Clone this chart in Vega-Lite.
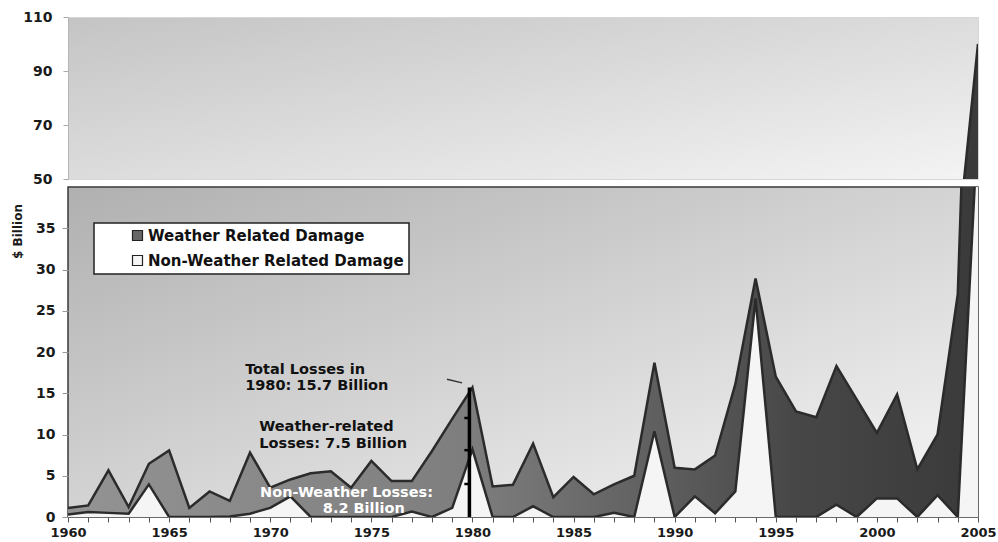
{
  "$schema": "https://vega.github.io/schema/vega-lite/v6.json",
  "background": "white",
  "padding": {"left": 10, "top": 9, "right": 2, "bottom": 2},
  "config": {
    "font": "DejaVu Sans",
    "axis": {"labelFont": "DejaVu Sans", "labelFontWeight": "bold", "labelColor": "#1a1a1a", "grid": false, "domain": false},
    "legend": {"strokeWidth": 1.5}
  },
  "datasets": {
    "losses": [
      {"year": 1960, "total": 1.1, "nonweather": 0.3},
      {"year": 1961, "total": 1.4, "nonweather": 0.6},
      {"year": 1962, "total": 5.65, "nonweather": 0.5},
      {"year": 1963, "total": 1.2, "nonweather": 0.4},
      {"year": 1964, "total": 6.45, "nonweather": 3.95},
      {"year": 1965, "total": 8.07, "nonweather": 0},
      {"year": 1966, "total": 1.1, "nonweather": 0},
      {"year": 1967, "total": 3.1, "nonweather": 0},
      {"year": 1968, "total": 1.95, "nonweather": 0.05},
      {"year": 1969, "total": 7.8, "nonweather": 0.4},
      {"year": 1970, "total": 3.55, "nonweather": 1.1},
      {"year": 1971, "total": 4.55, "nonweather": 2.5},
      {"year": 1972, "total": 5.3, "nonweather": 0},
      {"year": 1973, "total": 5.55, "nonweather": 0},
      {"year": 1974, "total": 3.55, "nonweather": 0},
      {"year": 1975, "total": 6.8, "nonweather": 0},
      {"year": 1976, "total": 4.35, "nonweather": 0},
      {"year": 1977, "total": 4.35, "nonweather": 0.65},
      {"year": 1978, "total": 8.0, "nonweather": 0},
      {"year": 1979, "total": 11.9, "nonweather": 1.1},
      {"year": 1980, "total": 15.7, "nonweather": 8.2},
      {"year": 1981, "total": 3.7, "nonweather": 0},
      {"year": 1982, "total": 3.9, "nonweather": 0},
      {"year": 1983, "total": 8.9, "nonweather": 1.3},
      {"year": 1984, "total": 2.4, "nonweather": 0},
      {"year": 1985, "total": 4.85, "nonweather": 0},
      {"year": 1986, "total": 2.75, "nonweather": 0},
      {"year": 1987, "total": 3.95, "nonweather": 0.5},
      {"year": 1988, "total": 5.0, "nonweather": 0},
      {"year": 1989, "total": 18.7, "nonweather": 10.4},
      {"year": 1990, "total": 5.97, "nonweather": 0},
      {"year": 1991, "total": 5.77, "nonweather": 2.5},
      {"year": 1992, "total": 7.45, "nonweather": 0.45},
      {"year": 1993, "total": 16.1, "nonweather": 3.1},
      {"year": 1994, "total": 28.9, "nonweather": 26.5},
      {"year": 1995, "total": 17.0, "nonweather": 0},
      {"year": 1996, "total": 12.8, "nonweather": 0},
      {"year": 1997, "total": 12.1, "nonweather": 0},
      {"year": 1998, "total": 18.3, "nonweather": 1.5},
      {"year": 1999, "total": 14.25, "nonweather": 0},
      {"year": 2000, "total": 10.2, "nonweather": 2.25},
      {"year": 2001, "total": 14.85, "nonweather": 2.25},
      {"year": 2002, "total": 5.77, "nonweather": 0},
      {"year": 2003, "total": 10.0, "nonweather": 2.65},
      {"year": 2004, "total": 27.0, "nonweather": 0},
      {"year": 2005, "total": 100.0, "nonweather": 48.0}
    ]
  },
  "spacing": -1,
  "resolve": {"legend": {"fill": "independent"}},
  "vconcat": [
    {
      "width": 910,
      "height": 162,
      "view": {
        "stroke": "#d6d6d6",
        "fill": {"gradient": "linear", "x1": 0, "y1": 0, "x2": 1, "y2": 1, "stops": [{"offset": 0, "color": "#c4c4c4"}, {"offset": 1, "color": "#f4f4f4"}]}
      },
      "data": {"name": "losses"},
      "encoding": {
        "x": {"field": "year", "type": "quantitative", "scale": {"domain": [1960, 2005], "nice": false, "zero": false}, "axis": null}
      },
      "layer": [
        {
          "mark": {"type": "area", "clip": true, "opacity": 1,
            "fill": {"gradient": "linear", "x1": 0, "y1": 0, "x2": 1, "y2": 0, "stops": [{"offset": 0, "color": "#939393"}, {"offset": 0.44, "color": "#7e7e7e"}, {"offset": 0.64, "color": "#606060"}, {"offset": 0.8, "color": "#474747"}, {"offset": 1, "color": "#3a3a3a"}]}},
          "encoding": {
            "y": {"field": "total", "type": "quantitative", "scale": {"domain": [50, 110], "nice": false, "zero": false},
              "axis": {"values": [50, 70, 90, 110], "title": null, "labelFontSize": 14, "tickSize": 5, "tickColor": "#aaaaaa", "labelPadding": 11, "domain": true, "domainColor": "#b5b5b5"}},
            "y2": {"field": "nonweather"}
          }
        },
        {
          "mark": {"type": "line", "clip": true, "color": "#2b2b2b", "strokeWidth": 2.5},
          "encoding": {"y": {"field": "total", "type": "quantitative"}}
        }
      ]
    },
    {
      "width": 910,
      "height": 330,
      "view": {
        "stroke": "#3a3a3a",
        "strokeWidth": 1.5,
        "fill": {"gradient": "linear", "x1": 0, "y1": 0, "x2": 1, "y2": 1, "stops": [{"offset": 0, "color": "#b0b0b0"}, {"offset": 1, "color": "#f8f8f8"}]}
      },
      "encoding": {
        "x": {"field": "year", "type": "quantitative", "scale": {"domain": [1960, 2005], "nice": false, "zero": false},
          "axis": {"title": null, "values": [1960,1961,1962,1963,1964,1965,1966,1967,1968,1969,1970,1971,1972,1973,1974,1975,1976,1977,1978,1979,1980,1981,1982,1983,1984,1985,1986,1987,1988,1989,1990,1991,1992,1993,1994,1995,1996,1997,1998,1999,2000,2001,2002,2003,2004,2005],
            "format": "d", "labelExpr": "datum.value % 5 == 0 ? datum.label : ''", "labelOverlap": false, "labelFlush": false,
            "labelFontSize": 13, "tickSize": 5, "tickColor": "#555555", "labelPadding": 4}}
      },
      "layer": [
        {
          "data": {"name": "losses"},
          "mark": {"type": "area", "clip": true, "opacity": 1},
          "encoding": {
            "y": {"field": "total", "type": "quantitative", "scale": {"domain": [0, 40], "nice": false},
              "axis": {"values": [0, 5, 10, 15, 20, 25, 30, 35], "title": "$ Billion", "titleFontSize": 12, "titleFontWeight": "bold", "titleColor": "#1a1a1a",
                "titleX": -51, "titleY": 44, "titleAlign": "center", "titleBaseline": "middle", "titleAngle": -90,
                "labelFontSize": 14, "tickSize": 6, "tickColor": "#999999", "labelPadding": 7}},
            "y2": {"field": "nonweather"},
            "fill": {"datum": "Weather Related Damage",
              "scale": {"domain": ["Weather Related Damage", "Non-Weather Related Damage"], "range": ["#666666", "#f5f5f5"]},
              "legend": {"title": null, "orient": "none", "legendX": 26, "legendY": 36, "fillColor": "white", "strokeColor": "#222222",
                "padding": 5, "rowPadding": 9, "symbolOffset": 31, "symbolType": "square", "symbolSize": 100,
                "symbolStrokeColor": "#222222", "symbolStrokeWidth": 1.2, "symbolOpacity": 1,
                "labelFont": "DejaVu Sans", "labelFontWeight": "bold", "labelFontSize": 15, "labelColor": "#111111", "labelOffset": 3, "labelLimit": 400}}
          }
        },
        {
          "data": {"name": "losses"},
          "mark": {"type": "area", "clip": true, "opacity": 1,
            "fill": {"gradient": "linear", "x1": 0, "y1": 0, "x2": 1, "y2": 0, "stops": [{"offset": 0, "color": "#939393"}, {"offset": 0.44, "color": "#7e7e7e"}, {"offset": 0.64, "color": "#606060"}, {"offset": 0.8, "color": "#474747"}, {"offset": 1, "color": "#3a3a3a"}]}},
          "encoding": {
            "y": {"field": "total", "type": "quantitative"},
            "y2": {"field": "nonweather"}
          }
        },
        {
          "data": {"name": "losses"},
          "mark": {"type": "area", "clip": true, "opacity": 1},
          "encoding": {
            "y": {"field": "nonweather", "type": "quantitative"},
            "fill": {"datum": "Non-Weather Related Damage"}
          }
        },
        {
          "data": {"name": "losses"},
          "mark": {"type": "line", "clip": true, "color": "#2b2b2b", "strokeWidth": 2.5},
          "encoding": {"y": {"field": "total", "type": "quantitative"}}
        },
        {
          "data": {"name": "losses"},
          "mark": {"type": "line", "clip": true, "color": "#2b2b2b", "strokeWidth": 2.5},
          "encoding": {"y": {"field": "nonweather", "type": "quantitative"}}
        },
        {
          "data": {"values": [{"year": 1979.85, "value": 0, "value2": 15.7}]},
          "mark": {"type": "rule", "color": "#000000", "strokeWidth": 3.5},
          "encoding": {"x": {"field": "year", "type": "quantitative"}, "y": {"field": "value", "type": "quantitative"}, "y2": {"field": "value2"}}
        },
        {
          "data": {"values": [
            {"year": 1979.6, "year2": 1979.85, "value": 12.0},
            {"year": 1979.6, "year2": 1979.85, "value": 8.1},
            {"year": 1979.6, "year2": 1979.85, "value": 4.0}
          ]},
          "mark": {"type": "rule", "color": "#000000", "strokeWidth": 2.5},
          "encoding": {"x": {"field": "year", "type": "quantitative"}, "x2": {"field": "year2"}, "y": {"field": "value", "type": "quantitative"}}
        },
        {
          "data": {"values": [{"year": 1978.74, "year2": 1979.49, "value": 16.7, "value2": 16.26}]},
          "mark": {"type": "rule", "color": "#333333", "strokeWidth": 1.5},
          "encoding": {"x": {"field": "year", "type": "quantitative"}, "x2": {"field": "year2"}, "y": {"field": "value", "type": "quantitative"}, "y2": {"field": "value2"}}
        },
        {
          "data": {"values": [
            {"year": 1968.76, "value": 17.8, "label": "Total Losses in"},
            {"year": 1968.76, "value": 15.9, "label": "1980: 15.7 Billion"},
            {"year": 1969.46, "value": 10.9, "label": "Weather-related"},
            {"year": 1969.46, "value": 8.9, "label": "Losses: 7.5 Billion"}
          ]},
          "mark": {"type": "text", "align": "left", "baseline": "middle", "font": "DejaVu Sans", "fontWeight": "bold", "fontSize": 14.5, "color": "#111111"},
          "encoding": {"x": {"field": "year", "type": "quantitative"}, "y": {"field": "value", "type": "quantitative"}, "text": {"field": "label"}}
        },
        {
          "data": {"values": [
            {"year": 1969.5, "value": 2.9, "label": "Non-Weather Losses:"},
            {"year": 1972.6, "value": 1.0, "label": "8.2 Billion"}
          ]},
          "mark": {"type": "text", "align": "left", "baseline": "middle", "font": "DejaVu Sans", "fontWeight": "bold", "fontSize": 14.5, "color": "#ffffff"},
          "encoding": {"x": {"field": "year", "type": "quantitative"}, "y": {"field": "value", "type": "quantitative"}, "text": {"field": "label"}}
        }
      ]
    }
  ]
}
